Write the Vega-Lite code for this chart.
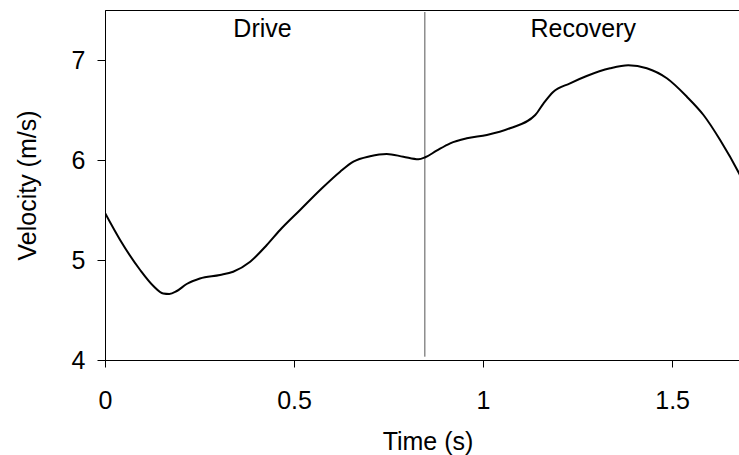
{
  "$schema": "https://vega.github.io/schema/vega-lite/v6.json",
  "autosize": {"type": "none"},
  "padding": {"left": 105, "top": 10, "right": 0, "bottom": 95},
  "width": 645,
  "height": 350,
  "background": "white",
  "config": {
    "view": {"stroke": "black", "strokeWidth": 1},
    "font": "Liberation Sans",
    "axis": {
      "grid": false,
      "labelFlush": false,
      "labelOverlap": false,
      "domainColor": "black",
      "tickColor": "black",
      "labelColor": "black",
      "titleColor": "black",
      "labelFont": "Liberation Sans",
      "titleFont": "Liberation Sans",
      "labelFontSize": 25,
      "titleFontSize": 25,
      "titleFontWeight": "normal"
    }
  },
  "datasets": {
    "curve": [
      {"t": 0.0, "v": 5.47},
      {"t": 0.04, "v": 5.2},
      {"t": 0.093, "v": 4.9},
      {"t": 0.128, "v": 4.74},
      {"t": 0.154, "v": 4.665},
      {"t": 0.17, "v": 4.66},
      {"t": 0.19, "v": 4.69},
      {"t": 0.216, "v": 4.76},
      {"t": 0.251, "v": 4.815},
      {"t": 0.304, "v": 4.85},
      {"t": 0.339, "v": 4.883},
      {"t": 0.384, "v": 4.983},
      {"t": 0.428, "v": 5.15},
      {"t": 0.463, "v": 5.3},
      {"t": 0.516, "v": 5.5},
      {"t": 0.569, "v": 5.7},
      {"t": 0.622, "v": 5.883},
      {"t": 0.657, "v": 5.983},
      {"t": 0.701, "v": 6.037},
      {"t": 0.745, "v": 6.06},
      {"t": 0.789, "v": 6.033},
      {"t": 0.829, "v": 6.007},
      {"t": 0.847, "v": 6.027},
      {"t": 0.877, "v": 6.093},
      {"t": 0.913, "v": 6.167},
      {"t": 0.957, "v": 6.217},
      {"t": 1.01, "v": 6.25},
      {"t": 1.071, "v": 6.317},
      {"t": 1.138, "v": 6.45},
      {"t": 1.16, "v": 6.567},
      {"t": 1.186, "v": 6.683},
      {"t": 1.23, "v": 6.767},
      {"t": 1.274, "v": 6.84},
      {"t": 1.336, "v": 6.917},
      {"t": 1.384, "v": 6.947},
      {"t": 1.433, "v": 6.917},
      {"t": 1.486, "v": 6.817},
      {"t": 1.539, "v": 6.633},
      {"t": 1.583, "v": 6.45},
      {"t": 1.627, "v": 6.2},
      {"t": 1.677, "v": 5.867},
      {"t": 1.705, "v": 5.65}
    ],
    "phase": [{"t": 0.846, "y1": 4.033, "y2": 7.48}],
    "labels": [
      {"t": 0.4167, "v": 7.233, "text": "Drive"},
      {"t": 1.265, "v": 7.233, "text": "Recovery"}
    ]
  },
  "layer": [
    {
      "data": {"name": "phase"},
      "mark": {"type": "rule", "color": "#555555", "strokeWidth": 1},
      "encoding": {
        "x": {"field": "t", "type": "quantitative", "scale": {"domain": [0, 1.706]}},
        "y": {"field": "y1", "type": "quantitative"},
        "y2": {"field": "y2"}
      }
    },
    {
      "data": {"name": "curve"},
      "mark": {"type": "line", "color": "black", "strokeWidth": 2, "interpolate": "monotone", "clip": true},
      "encoding": {
        "x": {
          "field": "t", "type": "quantitative",
          "scale": {"domain": [0, 1.706], "nice": false, "zero": false},
          "axis": {
            "title": "Time (s)",
            "values": [0, 0.5, 1, 1.5],
            "format": "~g",
            "tickSize": 7,
            "labelPadding": 21,
            "titleX": 322.5,
            "titleY": 89,
            "titleBaseline": "alphabetic"
          }
        },
        "y": {
          "field": "v", "type": "quantitative",
          "scale": {"domain": [4, 7.5], "nice": false, "zero": false},
          "axis": {
            "title": "Velocity (m/s)",
            "values": [4, 5, 6, 7],
            "format": "d",
            "tickSize": 8,
            "labelPadding": 12,
            "titleX": -70,
            "titleY": 175,
            "titleBaseline": "alphabetic"
          }
        }
      }
    },
    {
      "data": {"name": "labels"},
      "mark": {"type": "text", "fontSize": 25, "font": "Liberation Sans", "color": "black", "baseline": "alphabetic", "align": "center"},
      "encoding": {
        "x": {"field": "t", "type": "quantitative"},
        "y": {"field": "v", "type": "quantitative"},
        "text": {"field": "text"}
      }
    }
  ]
}
